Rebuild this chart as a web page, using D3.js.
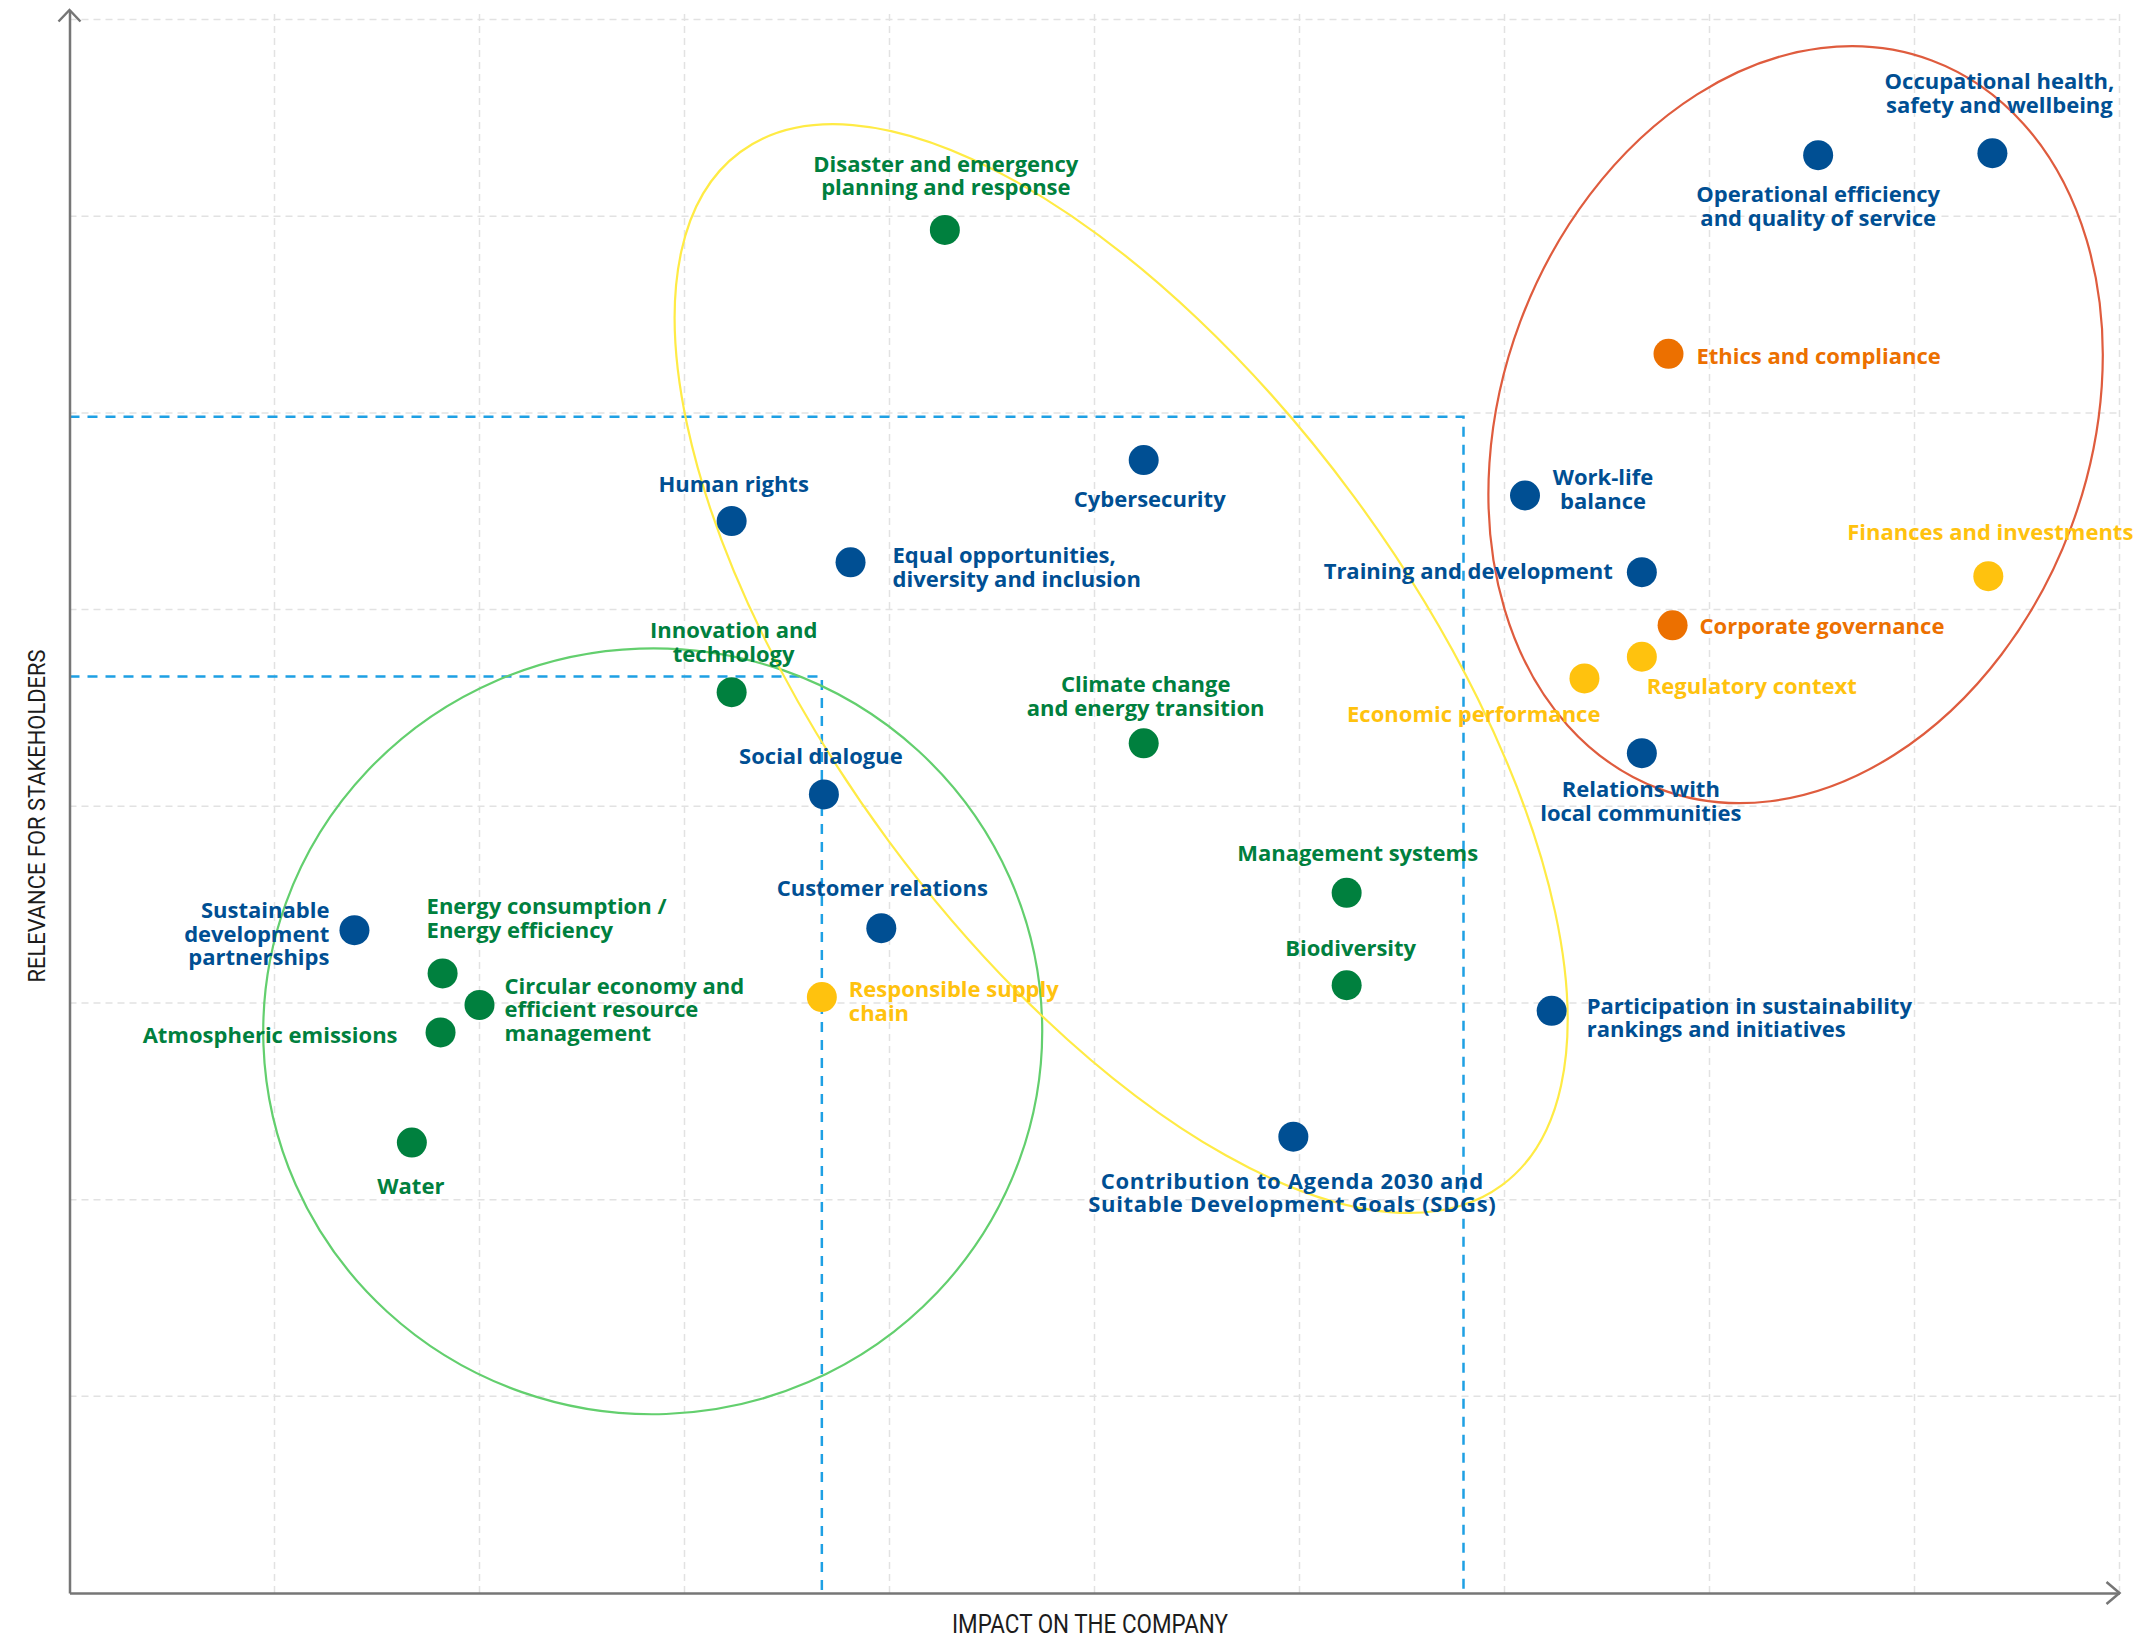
<!DOCTYPE html>
<html>
<head>
<meta charset="utf-8">
<script src="https://cdn.jsdelivr.net/npm/d3@7"></script>
<style>
  body { margin: 0; background: #fff; }
  svg { display: block; }
  .lbl { font-family: "Open Sans", "Lato", sans-serif; font-weight: 700; font-size: 22px; }
  .axtitle { font-family: "Liberation Sans Narrow", "Roboto", sans-serif; fill: #1c1c1c; }
</style>
</head>
<body>
<div id="svg"></div>
<script>
// materiality topics
var topics = [
  "Occupational health,|safety and wellbeing",
  "Operational efficiency|and quality of service",
  "Ethics and compliance",
  "Disaster and emergency|planning and response",
  "Cybersecurity",
  "Human rights",
  "Equal opportunities,|diversity and inclusion",
  "Work-life|balance",
  "Training and development",
  "Finances and investments",
  "Corporate governance",
  "Regulatory context",
  "Economic performance",
  "Relations with|local communities",
  "Innovation and|technology",
  "Climate change|and energy transition",
  "Social dialogue",
  "Customer relations",
  "Management systems",
  "Biodiversity",
  "Participation in sustainability|rankings and initiatives",
  "Contribution to Agenda 2030 and|Suitable Development Goals (SDGs)",
  "Sustainable|development|partnerships",
  "Energy consumption /|Energy efficiency",
  "Circular economy and|efficient resource|management",
  "Atmospheric emissions",
  "Water",
  "Responsible supply|chain"
];
// impact on the company (x)
var impact = [9.38, 8.53, 7.80, 4.27, 5.24, 3.23, 3.81, 7.10, 7.67, 9.36, 7.82, 7.67, 7.39, 7.67,
              3.23, 5.24, 3.68, 3.96, 6.23, 6.23, 7.23, 5.97, 1.39, 1.82, 2.00, 1.81, 1.67, 3.67];
// relevance for stakeholders (y)
var relevance = [7.32, 7.31, 6.30, 6.93, 5.76, 5.45, 5.24, 5.58, 5.19, 5.17, 4.92, 4.76, 4.65, 4.27,
                 4.58, 4.32, 4.06, 3.38, 3.56, 3.09, 2.96, 2.32, 3.37, 3.15, 2.99, 2.85, 2.29, 3.03];
// topic dimension
var dimension = ["social", "social", "governance", "environment", "social", "social", "social", "social",
                 "social", "economic", "governance", "economic", "economic", "social",
                 "environment", "environment", "social", "social", "environment", "environment", "social",
                 "social", "social", "environment", "environment", "environment", "environment", "economic"];

var xTicks = [1, 2, 3, 4, 5, 6, 7, 8, 9, 10];
var yTicks = [1, 2, 3, 4, 5, 6, 7, 8];

// threshold lines (impact, relevance)
var thresholdHigh = [6.80, 5.98];
var thresholdLow = [3.67, 4.66];

var xTitle = "IMPACT ON THE COMPANY";
var yTitle = "RELEVANCE FOR STAKEHOLDERS";

// label placement, in px relative to the dot: anchor, dx, dy of first line, letter spacing
var placement = [
  ["middle", 7, -64, 0], ["middle", 0, 47, 0], ["start", 28, 10, 0], ["middle", 1, -58, 0],
  ["middle", 6, 47, 0], ["middle", 2, -29, 0], ["start", 42, 1, 0], ["middle", 78, -10, 0],
  ["end", -29, 7, 0], ["middle", 2, -36, 0], ["start", 27, 9, 0], ["start", 5, 37, 0],
  ["end", 16, 44, 0], ["middle", -1, 44, 0], ["middle", 2, -54, 0], ["middle", 2, -51, 0],
  ["middle", -3, -30, 0], ["middle", 1, -32, 0], ["middle", 11, -32, 0], ["middle", 4, -29, 0],
  ["start", 35, 3, 0], ["middle", -1, 52, 0.7], ["end", -25, -12, 0], ["start", -16, -59, 0],
  ["start", 25, -11, 0], ["end", -43, 11, 0], ["middle", -1, 51, 0], ["start", 27, 0, 0]
];

var colour = d3.scaleOrdinal()
    .domain(["social", "environment", "governance", "economic"])
    .range(["#004f93", "#00803e", "#ec7000", "#ffc20e"]);

var W = 2138, H = 1638;
var svg = d3.select("#svg").append("svg")
    .attr("width", W)
    .attr("height", H);

var x = d3.scaleLinear().domain([0, 10]).range([69.5, 2119.5]);
var y = d3.scaleLinear().domain([0, 8]).range([1593, 19.5]);

// grid
svg.append("g").selectAll("line").data(xTicks).enter().append("line")
    .attr("x1", function(d){ return x(d); })
    .attr("x2", function(d){ return x(d); })
    .attr("y1", y(0))
    .attr("y2", y(8) - 10)
    .style("stroke", "#e2e2e2")
    .style("stroke-width", 1.5)
    .style("stroke-dasharray", "7,5");
svg.append("g").selectAll("line").data(yTicks).enter().append("line")
    .attr("x1", x(0))
    .attr("x2", x(10))
    .attr("y1", function(d){ return y(d); })
    .attr("y2", function(d){ return y(d); })
    .style("stroke", "#e2e2e2")
    .style("stroke-width", 1.5)
    .style("stroke-dasharray", "7,5");

// threshold boxes
[thresholdHigh, thresholdLow].forEach(function(t){
    svg.append("path")
        .attr("d", "M" + x(0) + "," + y(t[1]) + "H" + x(t[0]) + "V" + y(0))
        .style("fill", "none")
        .style("stroke", "#1ea0e4")
        .style("stroke-width", 2.5)
        .style("stroke-dasharray", "10,8");
});

// cluster ellipses (centre and radii in data units)
var clusters = [
  { cx: 2.845, cy: 2.856, rx: 1.90, ry: 1.947, rot: -2, col: "#63cf6e" },
  { cx: 5.13, cy: 4.70, rx: 1.412, ry: 3.263, rot: -36.4, col: "#ffeb45" },
  { cx: 8.42, cy: 5.94, rx: 1.434, ry: 1.977, rot: 20.5, col: "#df5c3e" }
];
svg.append("g").selectAll("ellipse").data(clusters).enter().append("ellipse")
    .attr("transform", function(d){ return "translate(" + x(d.cx) + "," + y(d.cy) + ") rotate(" + d.rot + ")"; })
    .attr("rx", function(d){ return x(d.rx) - x(0); })
    .attr("ry", function(d){ return y(0) - y(d.ry); })
    .style("fill", "none")
    .style("stroke", function(d){ return d.col; })
    .style("stroke-width", 2.2);

// axes
var xAxis = svg.append("g")
    .attr("transform", "translate(0," + y(0) + ")")
    .call(d3.axisBottom(x).tickValues([]).tickSizeOuter(0));
var yAxis = svg.append("g")
    .attr("transform", "translate(" + x(0) + ",0)")
    .call(d3.axisLeft(y.copy().domain([0, 8.05]).range([y(0), y(8) - 9.5])).tickValues([]).tickSizeOuter(0));
svg.selectAll(".domain").style("stroke", "#767676").style("stroke-width", 2.5);
svg.append("path")
    .attr("d", "M" + (x(10) - 13) + "," + (y(0) - 11) + "L" + x(10) + "," + y(0) + "L" + (x(10) - 13) + "," + (y(0) + 11))
    .style("fill", "none").style("stroke", "#767676").style("stroke-width", 2.5);
svg.append("path")
    .attr("d", "M" + (x(0) - 11) + "," + (y(8) + 2) + "L" + x(0) + "," + (y(8) - 9.5) + "L" + (x(0) + 11) + "," + (y(8) + 2))
    .style("fill", "none").style("stroke", "#767676").style("stroke-width", 2.5);

// axis titles
svg.append("text")
    .attr("class", "axtitle")
    .attr("x", 1090)
    .attr("y", 1633)
    .attr("text-anchor", "middle")
    .attr("textLength", 276)
    .attr("lengthAdjust", "spacingAndGlyphs")
    .style("font-size", "25px")
    .text(xTitle);
svg.append("text")
    .attr("class", "axtitle")
    .attr("transform", "translate(45,816) rotate(-90)")
    .attr("text-anchor", "middle")
    .attr("textLength", 333)
    .attr("lengthAdjust", "spacingAndGlyphs")
    .style("font-size", "23px")
    .text(yTitle);

// dots
var pts = topics.map(function(t, i){
    return { name: t, x: impact[i], y: relevance[i], dim: dimension[i], p: placement[i] };
});
svg.append("g").selectAll("circle").data(pts).enter().append("circle")
    .attr("cx", function(d){ return x(d.x); })
    .attr("cy", function(d){ return y(d.y); })
    .attr("r", 15)
    .style("fill", function(d){ return colour(d.dim); });

// labels
var lbl = svg.append("g").selectAll("text").data(pts).enter().append("text")
    .attr("class", "lbl")
    .attr("text-anchor", function(d){ return d.p[0]; })
    .attr("x", function(d){ return x(d.x) + d.p[1]; })
    .attr("y", function(d){ return y(d.y) + d.p[2]; })
    .style("letter-spacing", function(d){ return d.p[3] + "px"; })
    .style("fill", function(d){ return colour(d.dim); });
lbl.each(function(d){
    var t = d3.select(this);
    d.name.split("|").forEach(function(line, k){
        t.append("tspan")
            .attr("x", x(d.x) + d.p[1])
            .attr("dy", k == 0 ? 0 : 23.5)
            .text(line);
    });
});
</script>
</body>
</html>
